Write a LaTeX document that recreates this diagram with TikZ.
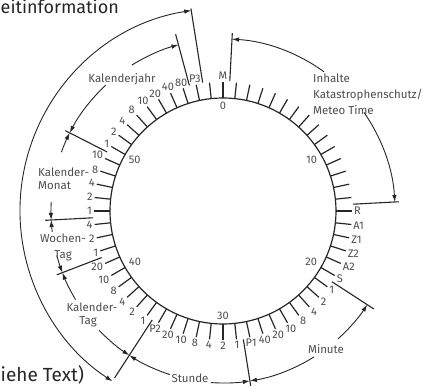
\documentclass[tikz,border=0pt]{standalone}
\usepackage{fontspec}
\setmainfont{Fira Sans}
\usetikzlibrary{arrows.meta}
\begin{document}
\begin{tikzpicture}[x=1pt,y=1pt,
  dial/.style={line width=1.2pt, draw=black!85},
  tck/.style={line width=1.2pt, draw=black!85},
  bnd/.style={line width=1.1pt, draw=black!85},
  arr/.style={line width=0.9pt, draw=black!85, -{Latex[length=7pt,width=4.5pt]}},
  arrb/.style={line width=0.9pt, draw=black!85, {Latex[length=7pt,width=4.5pt]}-{Latex[length=7pt,width=4.5pt]}},
  lbl/.style={font=\fontsize{11}{12}\selectfont, text=black!70, inner sep=1pt},
  grp/.style={font=\fontsize{11.5}{14}\selectfont, text=black!70, inner sep=0pt},
  big/.style={font=\fontsize{18}{20}\selectfont, text=black!85, inner sep=0pt}]
\useasboundingbox (-223,-176) rectangle (209,211);
\coordinate (c) at (0,0);
% dial
\draw[dial] (c) circle (113);
\foreach \s in {0,...,59} \draw[tck] ({90-6*\s}:113) -- ({90-6*\s}:129);
% outer labels
\foreach \s/\t in {0/M,15/R,16/A1,17/Z1,18/Z2,19/A2,20/S,21/1,22/2,23/4,24/8,25/10,26/20,27/40,28/P1,29/1,30/2,31/4,32/8,33/10,34/20,35/P2,36/1,37/2,38/4,39/8,40/10,41/20,42/1,43/2,44/4,45/1,46/2,47/4,48/8,49/10,50/1,51/2,52/4,53/8,54/10,55/20,56/40,57/80,58/P3} {
  \pgfmathtruncatemacro\an{mod(270-6*\s+720,360)}
  \node[lbl, anchor=\an] (o\s) at ({90-6*\s}:130) {\t};
}
% inner labels
\foreach \s in {0,10,20,30,40,50} {
  \pgfmathtruncatemacro\an{mod(90-6*\s+720,360)}
  \node[lbl, anchor=\an] (i\s) at ({90-6*\s}:110) {\s};
}
% group boundaries
\foreach \s/\r in {0.5/178,14.5/176,20.5/180,28.5/177,35.5/199,41.5/178,44.5/178,49.5/177,57.5/183,58.5/205}
  \draw[bnd] ({90-6*\s}:130) -- ({90-6*\s}:\r);
% group arrows
\draw[arr] (54:172) arc[start angle=54, end angle=87, radius=172];
\draw[arr] (35:172) arc[start angle=35, end angle=3, radius=172];
\draw[arr] (122:172) arc[start angle=122, end angle=105, radius=172];
\draw[arr] (133:172) arc[start angle=133, end angle=153, radius=172];
\draw[arr] (160:172) arc[start angle=160, end angle=153, radius=172];
\draw[arr] (177:172) arc[start angle=177, end angle=183, radius=172];
\draw[arr] (187:172) arc[start angle=187, end angle=183, radius=172];
\draw[arr] (195:172) arc[start angle=195, end angle=201, radius=172];
\draw[arr] (211:172) arc[start angle=211, end angle=201, radius=172];
\draw[arr] (224:172) arc[start angle=224, end angle=237, radius=172];
\draw[arr] (252:172) arc[start angle=252, end angle=237, radius=172];
\draw[arr] (266:172) arc[start angle=266, end angle=279, radius=172];
\draw[arr] (-58:172) arc[start angle=-58, end angle=-81, radius=172];
\draw[arr] (-48:172) arc[start angle=-48, end angle=-33, radius=172];
\draw[arrb] (99:203) arc[start angle=99, end angle=237, radius=203];
% group texts
\node[grp, anchor=base west] (inh1) at (90,128) {Inhalte};
\node[grp, anchor=base west] (inh2) at (90,112) {Katastrophenschutz/};
\node[grp, anchor=base west] (inh3) at (90,96) {Meteo Time};
\node[grp, anchor=base] (kj) at (-101,128) {Kalenderjahr};
\node[grp, anchor=base west] (km1) at (-185,34) {Kalender-};
\node[grp, anchor=base west] (km2) at (-185,21) {Monat};
\node[grp, anchor=base] (wt1) at (-160,-32) {Wochen-};
\node[grp, anchor=base] (wt2) at (-160,-48) {Tag};
\node[grp, anchor=base] (kt1) at (-131,-101) {Kalender-};
\node[grp, anchor=base] (kt2) at (-135,-114) {Tag};
\node[grp, anchor=base] (st) at (-33,-172) {Stunde};
\node[grp, anchor=base] (mi) at (103,-143) {Minute};
\node[big, anchor=base west] (zi) at (-222.5,197) {eitinformation};
\node[big, font=\fontsize{19}{21}\selectfont, anchor=base west] (sT) at (-222.5,-170.5) {iehe Text)};
\end{tikzpicture}
\end{document}
